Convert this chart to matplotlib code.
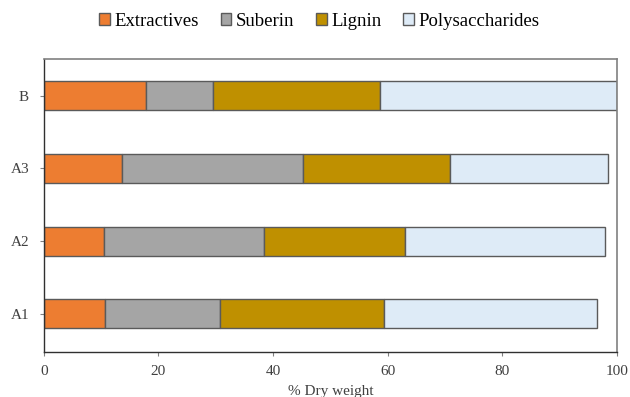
import matplotlib
matplotlib.use("Agg")
import matplotlib.pyplot as plt
import numpy as np

samples = ["A1", "A2", "A3", "B"]
components = ["Extractives", "Suberin", "Lignin", "Polysaccharides"]
extractives = [10.7, 10.5, 13.7, 17.9]
suberin = [20.1, 27.9, 31.6, 11.6]
lignin = [28.5, 24.7, 25.6, 29.1]
polysaccharides = [37.2, 34.8, 27.5, 41.4]
colors = ["#ED7D31", "#A5A5A5", "#BF9000", "#DEEBF7"]

plt.rcParams["font.family"] = ["Liberation Serif", "DejaVu Serif"]

fig = plt.figure(figsize=(6.30, 3.97), dpi=100)
ax = fig.add_axes([0.0694, 0.1141, 0.9100, 0.7365])

y = np.arange(len(samples))
left = np.zeros(len(samples))
for name, vals, col in zip(components, [extractives, suberin, lignin, polysaccharides], colors):
    ax.barh(y, vals, left=left, height=0.4, color=col, edgecolor="#5a5a5a",
            linewidth=1.0, label=name)
    left += np.array(vals)

ax.set_xlim(0, 100)
ax.set_ylim(-0.52, 3.5)
ax.set_yticks(y)
ax.set_yticklabels(samples)
ax.set_xticks([0, 20, 40, 60, 80, 100])
ax.set_xlabel("% Dry weight", fontsize=11, color="#404040", labelpad=5)
ax.tick_params(axis="both", labelsize=11, labelcolor="#404040", color="#808080",
               length=3, width=0.8)
ax.tick_params(axis="y", pad=7.5)
ax.tick_params(axis="x", pad=6.5)

for side in ["left", "bottom"]:
    ax.spines[side].set_color("#303030")
    ax.spines[side].set_linewidth(1.0)
for side in ["top", "right"]:
    ax.spines[side].set_color("#808080")
    ax.spines[side].set_linewidth(1.2)

fig.legend(loc="center", bbox_to_anchor=(0.507, 0.947), ncol=4, frameon=False,
           fontsize=13.5, handlelength=0.57, handleheight=0.57,
           handletextpad=0.25, columnspacing=1.15, borderaxespad=0)

fig.savefig("out.png", dpi=100)
